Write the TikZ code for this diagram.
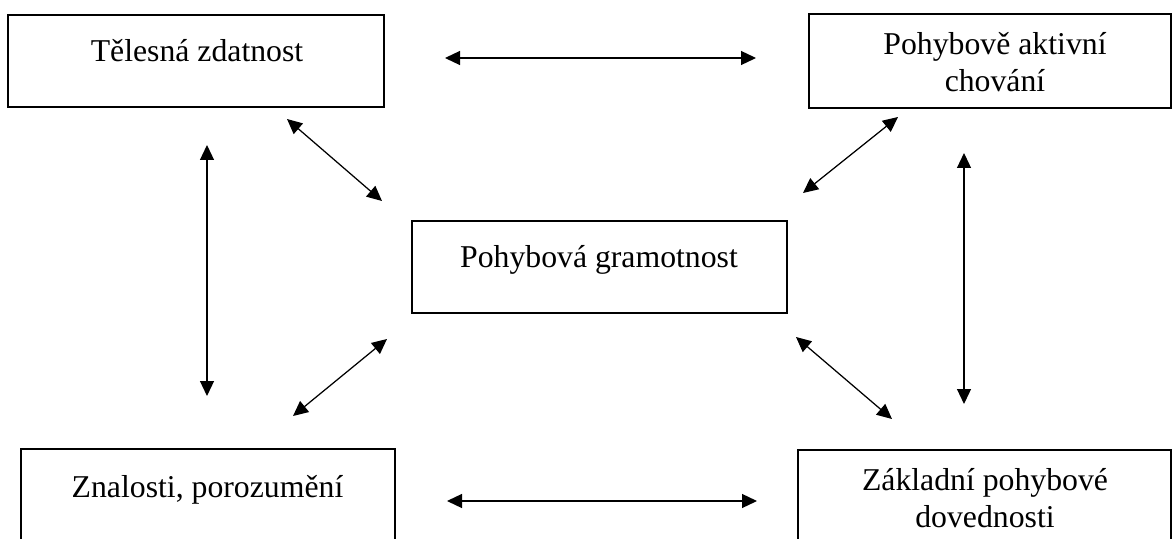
\documentclass[tikz,border=0pt]{standalone}
\usepackage{fontspec}
\setmainfont{Liberation Serif}
\usetikzlibrary{arrows.meta,positioning}

\begin{document}
\begin{tikzpicture}[x=0.4pt,y=-0.4pt]
	\tikzset{block/.style={draw,line width=1pt,inner sep=0pt},
		txt/.style={align=center,inner sep=0pt,anchor=base,font=\fontsize{12.7}{14.8}\selectfont},
		link/.style={draw,line width=0.5pt,{Triangle[length=6pt,width=5.6pt]}-{Triangle[length=6pt,width=5.6pt]}}}
	\useasboundingbox (0,0) rectangle (1173,539);
	\clip (0,0) rectangle (1173,539);
	% boxes
	\node [block,minimum width=150.4pt,minimum height=36.8pt] (zdatnost) at (196,61) {};
	\node [block,minimum width=144.8pt,minimum height=37.6pt] (chovani) at (990,61) {};
	\node [block,minimum width=150pt,minimum height=36.8pt] (gramotnost) at (599.5,267) {};
	\node [block,minimum width=149.6pt,minimum height=38.4pt] (znalosti) at (208,497) {};
	\node [block,minimum width=149.2pt,minimum height=38.4pt] (dovednosti) at (984.5,498) {};
	% texts
	\node [txt] (zdatnost-t) at (197,62) {Tělesná zdatnost};
	\node [txt] (chovani-t) at (995,92) {Pohybově aktivní\\chování};
	\node [txt] (gramotnost-t) at (599,267) {Pohybová gramotnost};
	\node [txt] (znalosti-t) at (207.5,497) {Znalosti, porozumění};
	\node [txt] (dovednosti-t) at (985,527) {Základní pohybové\\dovednosti};
	% arrow ends
	\coordinate (h1a) at (445,58);  \coordinate (h1b) at (756,58);
	\coordinate (d1a) at (287,119); \coordinate (d1b) at (382,201);
	\coordinate (d2a) at (898,117); \coordinate (d2b) at (803,193);
	\coordinate (v1a) at (207,145); \coordinate (v1b) at (207,396);
	\coordinate (v2a) at (964,153); \coordinate (v2b) at (964,404);
	\coordinate (d3a) at (387,339); \coordinate (d3b) at (293,416);
	\coordinate (d4a) at (796,337); \coordinate (d4b) at (892,419);
	\coordinate (h2a) at (447,501); \coordinate (h2b) at (757,501);
	\draw[link] (h1a) -- (h1b);
	\draw[link] (d1a) -- (d1b);
	\draw[link] (d2a) -- (d2b);
	\draw[link] (v1a) -- (v1b);
	\draw[link] (v2a) -- (v2b);
	\draw[link] (d3a) -- (d3b);
	\draw[link] (d4a) -- (d4b);
	\draw[link] (h2a) -- (h2b);
\end{tikzpicture}
\end{document}
